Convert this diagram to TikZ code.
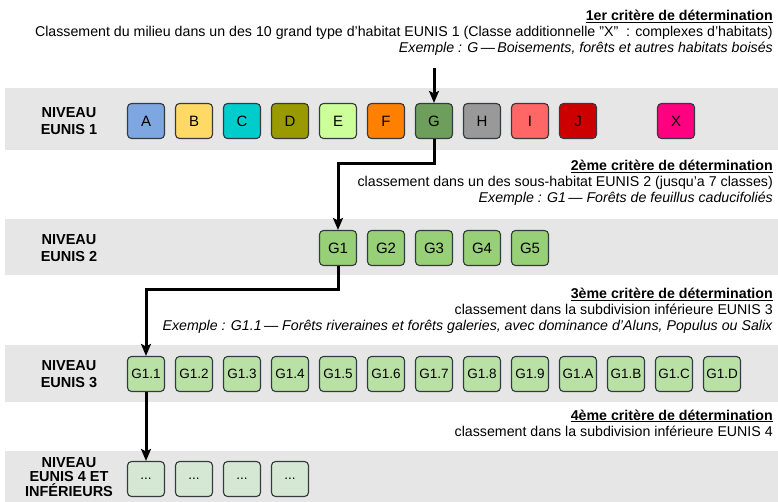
\documentclass[tikz,border=0pt]{standalone}
\usepackage{fontspec}
\setmainfont{Liberation Sans}
\usetikzlibrary{arrows.meta}

\definecolor{cA}{HTML}{7EA6E0}
\definecolor{cB}{HTML}{FFD966}
\definecolor{cC}{HTML}{00CCCC}
\definecolor{cD}{HTML}{999900}
\definecolor{cE}{HTML}{CCFF99}
\definecolor{cF}{HTML}{FF8000}
\definecolor{cG}{HTML}{6D9E5B}
\definecolor{cH}{HTML}{999999}
\definecolor{cI}{HTML}{FF6666}
\definecolor{cJ}{HTML}{CC0000}
\definecolor{cX}{HTML}{FF0080}
\definecolor{cniv2}{HTML}{97D077}
\definecolor{cniv3}{HTML}{B9E0A5}
\definecolor{cniv4}{HTML}{D5E8D4}
\definecolor{bande}{HTML}{E6E6E6}
\definecolor{trait}{HTML}{36393D}

\tikzset{
  boite/.style={draw=trait, line width=1.1pt, rounded corners=4pt,
    minimum width=37pt, minimum height=35pt, inner sep=0pt,
    font=\fontsize{15}{17}\selectfont},
  petit/.style={boite, font=\fontsize{13.5}{15}\selectfont},
  niveau/.style={align=center, font=\fontsize{14.5}{16.5}\selectfont\bfseries},
  critere/.style={align=right, anchor=east, inner sep=0pt, font=\fontsize{14.2}{16}\selectfont},
  fleche/.style={line width=3pt, -{Stealth[length=12pt,width=10pt,inset=2.5pt]}}
}

\begin{document}
\begin{tikzpicture}[x=1pt, y=-1pt]
\useasboundingbox (0,0) rectangle (778,502);

% bandes grises
\fill[bande] (5,88) rectangle (778,150);
\fill[bande] (5,219) rectangle (778,275);
\fill[bande] (5,345) rectangle (778,402);
\fill[bande] (5,451) rectangle (778,502);

\node[niveau] (n1) at (69,121) {NIVEAU\\EUNIS 1};
\node[niveau] (n2) at (69,248) {NIVEAU\\EUNIS 2};
\node[niveau] (n3) at (69,374) {NIVEAU\\EUNIS 3};
\node[niveau, font=\fontsize{14.5}{14.8}\selectfont\bfseries] (n4) at (69,477) {NIVEAU\\EUNIS 4 ET\\INFÉRIEURS};

% niveau 1
\node[boite, fill=cA] (a1) at (146,121) {A};
\node[boite, fill=cB] (a2) at (194,121) {B};
\node[boite, fill=cC] (a3) at (242,121) {C};
\node[boite, fill=cD] (a4) at (290,121) {D};
\node[boite, fill=cE] (a5) at (338,121) {E};
\node[boite, fill=cF] (a6) at (386,121) {F};
\node[boite, fill=cG] (a7) at (434,121) {G};
\node[boite, fill=cH] (a8) at (482,121) {H};
\node[boite, fill=cI] (a9) at (530,121) {I};
\node[boite, fill=cJ] (a10) at (578,121) {J};
\node[boite, fill=cX] (a11) at (676,121) {X};

% niveau 2
\node[boite, fill=cniv2] (b1) at (338,248) {G1};
\node[boite, fill=cniv2] (b2) at (386,248) {G2};
\node[boite, fill=cniv2] (b3) at (434,248) {G3};
\node[boite, fill=cniv2] (b4) at (482,248) {G4};
\node[boite, fill=cniv2] (b5) at (530,248) {G5};

% niveau 3
\foreach \i/\t in {1/1,2/2,3/3,4/4,5/5,6/6,7/7,8/8,9/9,10/A,11/B,12/C,13/D}
  \node[petit, fill=cniv3] (c\i) at (98+48*\i,374) {G1.\t};

% niveau 4
\foreach \i in {1,...,4}
  \node[petit, fill=cniv4] (d\i) at (98+48*\i,479) {...};

% criteres
\node[critere] (t1) at (773,33) {\underline{\textbf{1er critère de détermination}}\\
  Classement du milieu dans un des 10 grand type d'habitat EUNIS 1 (Classe additionnelle "X"\ \ : complexes d'habitats)\\
  \textit{Exemple : G\,—\,Boisements, forêts et autres habitats boisés}};
\node[critere] (t2) at (773,183) {\underline{\textbf{2ème critère de détermination}}\\
  classement dans un des sous-habitat EUNIS 2 (jusqu'a 7 classes)\\
  \textit{Exemple : G1\,— Forêts de feuillus caducifoliés}};
\node[critere] (t3) at (773,311) {\underline{\textbf{3ème critère de détermination}}\\
  classement dans la subdivision inférieure EUNIS 3\\
  \textit{Exemple : G1.1\,— Forêts riveraines et forêts galeries, avec dominance d'Aluns, Populus ou Salix}};
\node[critere] (t4) at (773,423) {\underline{\textbf{4ème critère de détermination}}\\
  classement dans la subdivision inférieure EUNIS 4};

% fleches
\coordinate (depart) at (434,68);
\draw[fleche] (depart) -- (a7.north);
\draw[fleche] (a7.south) -- ++(0,24) -| (b1.north);
\draw[fleche] (b1.south) -- ++(0,23) -| (c1.north);
\draw[fleche] (c1.south) -- (d1.north);
\end{tikzpicture}
\end{document}
